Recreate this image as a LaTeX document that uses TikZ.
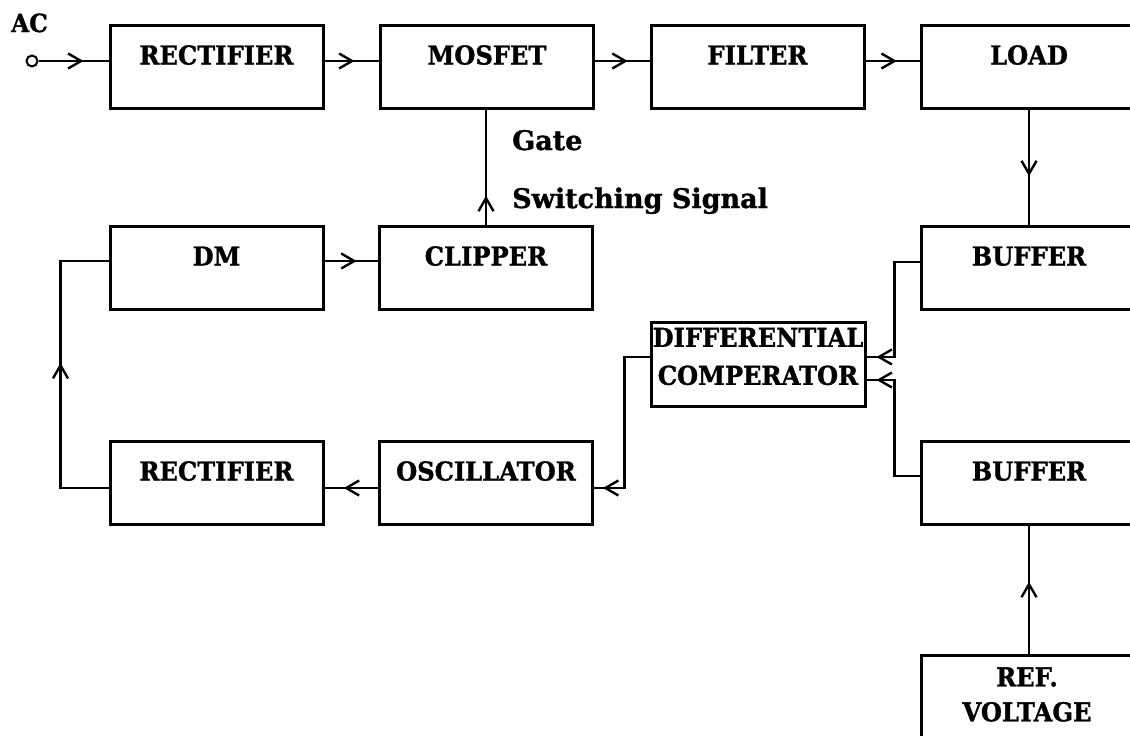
\documentclass[tikz,border=0pt]{standalone}
\usepackage{fontspec}
\setmainfont{DejaVu Serif}
\newfontfamily\boxfont[FakeStretch=0.93,BoldFeatures={FakeBold=1.2}]{DejaVu Serif}
\newfontfamily\sigfont[BoldFeatures={FakeBold=1.2}]{DejaVu Serif}
\usetikzlibrary{arrows.meta,decorations.markings,calc}
\tikzset{
  blk/.style={draw, line width=3pt, minimum width=213pt, minimum height=83pt, inner sep=0pt,
    font=\boxfont\bfseries\fontsize{26}{30}\selectfont, text height=19pt, text depth=23pt},
  lbl/.style={inner sep=0pt, font=\boxfont\bfseries\fontsize{26}{30}\selectfont},
  siglbl/.style={inner sep=0pt, anchor=base west, font=\sigfont\bfseries\fontsize{27}{30}\selectfont},
  wire/.style={line width=2.4pt},
  midarrow/.style={postaction={decorate}, decoration={markings,
    mark=at position #1 with {\arrow{Straight Barb[length=13pt,width=15pt]}}}}
}
\begin{document}
\begin{tikzpicture}[x=1pt,y=-1pt]
\useasboundingbox (0,0) rectangle (1130,736);
% row 1
\node[blk] (rect1) at (216.5,66.5) {RECTIFIER};
\node[blk] (mosfet) at (487,66.5) {MOSFET};
\node[blk] (filter) at (757.5,66.5) {FILTER};
\node[blk,minimum width=216pt] (load) at (1029,66.5) {LOAD};
% row 2
\node[blk] (dm) at (216.5,267.5) {DM};
\node[blk] (clipper) at (486,267.5) {CLIPPER};
\node[blk,minimum width=216pt] (buf1) at (1029,267.5) {BUFFER};
% comparator
\node[blk,minimum width=214pt,minimum height=84pt] (diff) at (758,364) {};
\node[lbl,align=center,font=\boxfont\bfseries\fontsize{26}{38}\selectfont] (difft) at (758,356.5) {DIFFERENTIAL\\COMPERATOR};
% row 3
\node[blk] (rect2) at (216.5,482.5) {RECTIFIER};
\node[blk] (osc) at (486,482.5) {OSCILLATOR};
\node[blk,minimum width=216pt] (buf2) at (1029,482.5) {BUFFER};
% reference
\node[blk,minimum width=216pt,minimum height=95pt] (ref) at (1029,702.5) {};
\node[lbl,align=center,font=\boxfont\bfseries\fontsize{26}{35}\selectfont] (reft) at (1027,694.5) {REF.\\VOLTAGE};
% input
\node[circle,draw,line width=2pt,minimum size=11pt,inner sep=0pt] (acin) at (32,61) {};
\node[lbl,anchor=base west,font=\boxfont\bfseries\fontsize{25}{28}\selectfont] (ac) at (11,32) {AC};
% labels
\node[siglbl] (gate) at (512,150) {Gate};
\node[siglbl] (sw) at (512,208) {Switching Signal};
% connectors
\draw[wire,midarrow=45pt] (acin.east) -- (rect1.west |- acin.east);
\draw[wire,midarrow=0.55] ([yshift=5.5pt]rect1.east) -- ([yshift=5.5pt]mosfet.west);
\draw[wire,midarrow=0.6] ([yshift=5.5pt]mosfet.east) -- ([yshift=5.5pt]filter.west);
\draw[wire,midarrow=0.58] ([yshift=5.5pt]filter.east) -- ([yshift=5.5pt]load.west);
\draw[wire,midarrow=0.58] (load.south) -- (buf1.north);
\draw[wire,midarrow=0.6] ([yshift=6.5pt]dm.east) -- ([yshift=6.5pt]clipper.west);
\draw[wire,midarrow=0.25] (clipper.north) -- (clipper.north |- mosfet.south);
\draw[wire,midarrow=-10pt] ([yshift=5.5pt]buf1.west) -- ++(-25,0) |- ([yshift=7pt]diff.east);
\draw[wire,midarrow=-10pt] ([yshift=6.5pt]buf2.west) -- ++(-25,0) |- ([yshift=-16pt]diff.east);
\draw[wire,midarrow=-9pt] ([yshift=7pt]diff.west) -- ++(-25,0) |- ([yshift=-5.5pt]osc.east);
\draw[wire,midarrow=0.64] ([yshift=-5.5pt]osc.west) -- ([yshift=-5.5pt]rect2.east);
\draw[wire,midarrow=173pt] ([yshift=-5.5pt]rect2.west) -- ++(-48,0) |- ([yshift=6.5pt]dm.west);
\draw[wire,midarrow=0.56] (ref.north) -- (buf2.south);
\end{tikzpicture}
\end{document}
